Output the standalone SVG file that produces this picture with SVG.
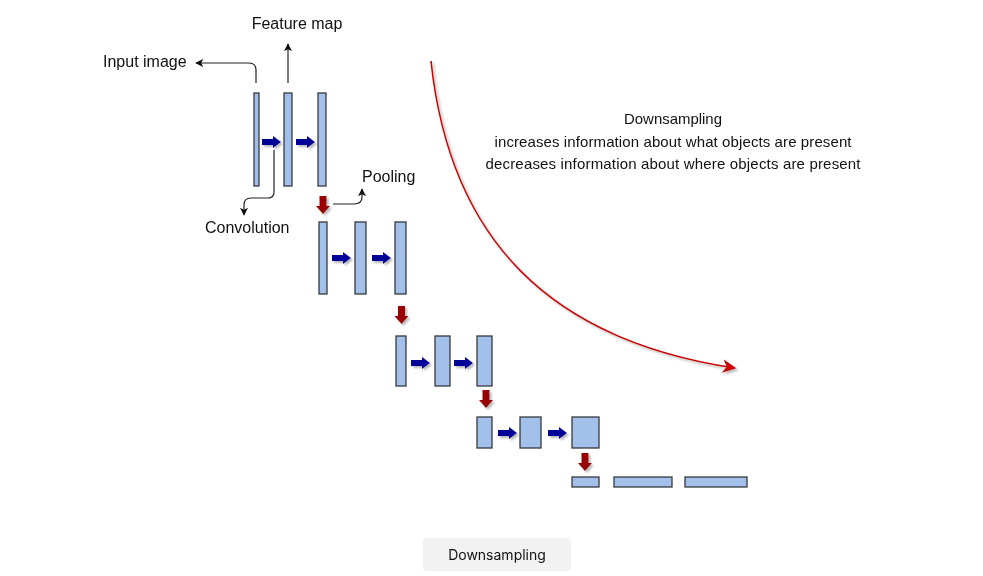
<svg xmlns="http://www.w3.org/2000/svg" xmlns:xlink="http://www.w3.org/1999/xlink" width="983" height="576" viewBox="0 0 983 576">
<style>
  .bar { fill: #a3c0ea; stroke: #36393d; stroke-width: 1.3; }
  .lbl { font-family: "Liberation Sans", Arial, sans-serif; font-size: 16px; fill: #111; }
  .note { font-family: "Liberation Sans", Arial, sans-serif; font-size: 15px; fill: #111; text-anchor: middle; }
  .conn { fill: none; stroke: #222; stroke-width: 1.2; }
  .blue { fill: #000099; }
  .red { fill: #990000; }
</style>
<defs>
  <filter id="sh" x="-50%" y="-50%" width="200%" height="200%">
    <feDropShadow dx="2" dy="2" stdDeviation="0.8" flood-color="#888" flood-opacity="0.6"/>
  </filter>
  <marker id="ah" viewBox="0 0 10 10" refX="9" refY="5" markerWidth="8" markerHeight="8" markerUnits="userSpaceOnUse" orient="auto">
    <path d="M0,0 L10,5 L0,10 L2.5,5 Z" fill="#111"/>
  </marker>
  <marker id="rah" viewBox="0 0 10 10" refX="9" refY="5" markerWidth="14" markerHeight="14" markerUnits="userSpaceOnUse" orient="auto">
    <path d="M0,0 L10,5 L0,10 L3,5 Z" fill="#cc0000"/>
  </marker>
  <path id="ba" d="M0,-3 H11 V-6 L19,0 L11,6 V3 H0 Z"/>
  <path id="ra" d="M-3.5,0 V10 H-7 L0,18 L7,10 H3.5 V0 Z"/>
</defs>
<rect width="983" height="576" fill="#ffffff"/>

<g id="row1">
  <rect class="bar" x="254" y="93" width="5" height="93"/>
  <rect class="bar" x="284" y="93" width="8" height="93"/>
  <rect class="bar" x="318" y="93" width="8" height="93"/>
</g>
<g id="row2">
  <rect class="bar" x="319" y="222" width="8" height="72"/>
  <rect class="bar" x="355" y="222" width="11" height="72"/>
  <rect class="bar" x="395" y="222" width="11" height="72"/>
</g>
<g id="row3">
  <rect class="bar" x="396" y="336" width="10" height="50"/>
  <rect class="bar" x="435" y="336" width="15" height="50"/>
  <rect class="bar" x="477" y="336" width="15" height="50"/>
</g>
<g id="row4">
  <rect class="bar" x="477" y="417" width="15" height="31"/>
  <rect class="bar" x="520" y="417" width="21" height="31"/>
  <rect class="bar" x="572" y="417" width="27" height="31"/>
</g>
<g id="row5">
  <rect class="bar" x="572" y="477" width="27" height="10"/>
  <rect class="bar" x="614" y="477" width="58" height="10"/>
  <rect class="bar" x="685" y="477" width="62" height="10"/>
</g>

<g id="blue-arrows" class="blue" filter="url(#sh)">
  <use xlink:href="#ba" x="262" y="142"/>
  <use xlink:href="#ba" x="296" y="142"/>
  <use xlink:href="#ba" x="332" y="258"/>
  <use xlink:href="#ba" x="372" y="258"/>
  <use xlink:href="#ba" x="411" y="363"/>
  <use xlink:href="#ba" x="454" y="363"/>
  <use xlink:href="#ba" x="498" y="433"/>
  <use xlink:href="#ba" x="548" y="433"/>
</g>

<g id="red-arrows" class="red" filter="url(#sh)">
  <use xlink:href="#ra" x="323" y="196"/>
  <use xlink:href="#ra" x="401.5" y="306"/>
  <use xlink:href="#ra" x="486" y="390"/>
  <use xlink:href="#ra" x="585" y="453"/>
</g>

<g id="connectors">
  <path class="conn" d="M256,83 L256,70 Q256,63 249,63 L196,63" marker-end="url(#ah)"/>
  <path class="conn" d="M288,83 L288,44" marker-end="url(#ah)"/>
  <path class="conn" d="M274,150 L274,192 Q274,198 268,198 L251,198 Q244,198 244,205 L244,215" marker-end="url(#ah)"/>
  <path class="conn" d="M333,204 L354,204 Q362,204 362,197 L362,189" marker-end="url(#ah)"/>
  <path d="M431,61 C450,240 550,340 735,368" fill="none" stroke="#cc0000" stroke-width="1.6" filter="url(#sh)" marker-end="url(#rah)"/>
</g>

<g id="labels">
  <text class="lbl" x="297" y="29" text-anchor="middle">Feature map</text>
  <text class="lbl" x="103" y="67">Input image</text>
  <text class="lbl" x="205" y="233">Convolution</text>
  <text class="lbl" x="362" y="182">Pooling</text>
</g>

<g id="note">
  <text class="note" x="673" y="124" textLength="98" lengthAdjust="spacingAndGlyphs">Downsampling</text>
  <text class="note" x="673" y="147" textLength="357" lengthAdjust="spacing">increases information about what objects are present</text>
  <text class="note" x="673" y="169" textLength="375" lengthAdjust="spacing">decreases information about where objects are present</text>
</g>

<g id="button">
  <rect x="423" y="538" width="148" height="33" rx="4" fill="#f2f2f2"/>
  <text x="497" y="560" text-anchor="middle" style="font-family: Inter, 'Noto Sans', sans-serif; font-size: 14px; fill: #111;">Downsampling</text>
</g>
</svg>
